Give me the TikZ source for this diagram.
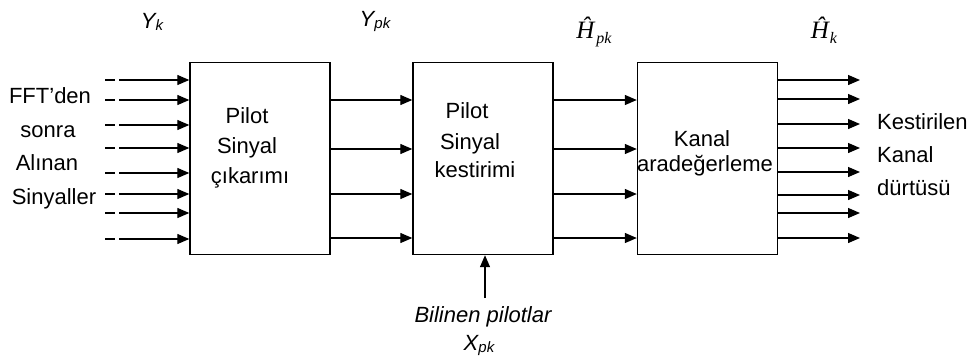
\documentclass[tikz,border=0pt]{standalone}
\usepackage{fontspec}
\setmainfont{Liberation Sans}
\newfontfamily\tnr{Liberation Serif}
\usetikzlibrary{arrows.meta}
\begin{document}
\begin{tikzpicture}[x=1pt,y=-1pt,
  blk/.style={draw,line width=1.4pt,minimum width=140pt,minimum height=192pt,inner sep=0pt},
  arr/.style={line width=1.3pt,-{Triangle[length=12pt,width=10pt]}},
  inarr/.style={arr,dash pattern=on 10pt off 4pt on 300pt},
  txt/.style={font=\fontsize{22}{25}\selectfont,anchor=base,inner sep=0pt},
  itxt/.style={txt,font=\fontsize{22}{25}\selectfont\itshape},
  htxt/.style={txt,font=\fontsize{25}{25}\selectfont\tnr\itshape},
]
\useasboundingbox (0,0) rectangle (973,362);
% blocks
\node[blk] (b1) at (260,158.5) {};
\node[blk] (b2) at (483,158.5) {};
\node[blk] (b3) at (707.5,158.5) {};
% input arrows
\foreach \y [count=\i] in {80,100,125,148,173,194,213,239}{
  \coordinate (l\i) at (105,\y);
  \draw[inarr] (l\i) -- (l\i -| b1.west);
}
% middle arrows
\foreach \y [count=\i] in {100,149,194,238}{
  \coordinate (m\i) at (0,\y);
  \draw[arr] (m\i -| b1.east) -- (m\i -| b2.west);
  \draw[arr] (m\i -| b2.east) -- (m\i -| b3.west);
}
% output arrows
\foreach \y [count=\i] in {80,99,124,148,172,195,213,238}{
  \coordinate (r\i) at (860,\y);
  \draw[arr] (r\i -| b3.east) -- (r\i);
}
% pilot input
\coordinate (bp) at (485,298);
\draw[arr] (bp) -- (bp |- b2.south);
% left text
\node[txt] (t1) at (50,103) {FFT’den};
\node[txt] (t2) at (48,137) {sonra};
\node[txt] (t3) at (47,170) {Alınan};
\node[txt] (t4) at (54,204) {Sinyaller};
% block texts
\node[txt] (p1) at (247,123) {Pilot};
\node[txt] (p2) at (247,153) {Sinyal};
\node[txt] (p3) at (250,183) {çıkarımı};
\node[txt] (q1) at (467,118) {Pilot};
\node[txt] (q2) at (470,149) {Sinyal};
\node[txt] (q3) at (475,177) {kestirimi};
\node[txt] (k1) at (702,146) {Kanal};
\node[txt] (k2) at (705,171) {aradeğerleme};
% right text
\node[txt,anchor=base west] (o1) at (877,129) {Kestirilen};
\node[txt,anchor=base west] (o2) at (877,162) {Kanal};
\node[txt,anchor=base west] (o3) at (877,195) {dürtüsü};
% bottom
\node[itxt] (bl) at (483,322) {Bilinen pilotlar};
\node[itxt] (xp) at (479,350) {X\raisebox{-0.25ex}{\fontsize{15}{15}\selectfont pk}};
% top labels
\node[itxt] (yk) at (152,28) {Y\raisebox{-0.25ex}{\fontsize{15}{15}\selectfont k}};
\node[itxt] (ypk) at (375,26) {Y\raisebox{-0.25ex}{\fontsize{15}{15}\selectfont pk}};
\node[htxt] (hpk) at (594,38) {Ĥ\kern2pt\raisebox{-0.45ex}{\fontsize{16}{16}\selectfont pk}};
\node[htxt] (hk) at (824,38) {Ĥ\kern1pt\raisebox{-0.45ex}{\fontsize{16}{16}\selectfont k}};
\end{tikzpicture}
\end{document}
